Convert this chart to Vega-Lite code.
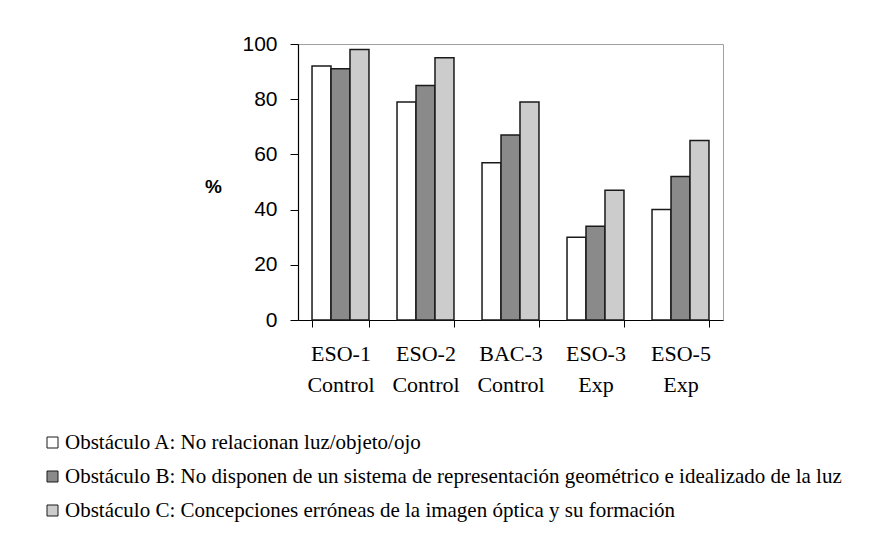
{
  "$schema": "https://vega.github.io/schema/vega-lite/v6.json",
  "autosize": {"type": "none"},
  "padding": {"left": 298, "top": 44, "right": 151, "bottom": 224},
  "width": 425,
  "height": 276,
  "background": "white",
  "data": {
    "values": [
      {"grupo": "ESO-1|Control", "obstaculo": "Obstáculo A: No relacionan luz/objeto/ojo", "pct": 92},
      {"grupo": "ESO-1|Control", "obstaculo": "Obstáculo B: No disponen de un sistema de representación geométrico e idealizado de la luz", "pct": 91},
      {"grupo": "ESO-1|Control", "obstaculo": "Obstáculo C: Concepciones erróneas de la imagen óptica y su formación", "pct": 98},
      {"grupo": "ESO-2|Control", "obstaculo": "Obstáculo A: No relacionan luz/objeto/ojo", "pct": 79},
      {"grupo": "ESO-2|Control", "obstaculo": "Obstáculo B: No disponen de un sistema de representación geométrico e idealizado de la luz", "pct": 85},
      {"grupo": "ESO-2|Control", "obstaculo": "Obstáculo C: Concepciones erróneas de la imagen óptica y su formación", "pct": 95},
      {"grupo": "BAC-3|Control", "obstaculo": "Obstáculo A: No relacionan luz/objeto/ojo", "pct": 57},
      {"grupo": "BAC-3|Control", "obstaculo": "Obstáculo B: No disponen de un sistema de representación geométrico e idealizado de la luz", "pct": 67},
      {"grupo": "BAC-3|Control", "obstaculo": "Obstáculo C: Concepciones erróneas de la imagen óptica y su formación", "pct": 79},
      {"grupo": "ESO-3|Exp", "obstaculo": "Obstáculo A: No relacionan luz/objeto/ojo", "pct": 30},
      {"grupo": "ESO-3|Exp", "obstaculo": "Obstáculo B: No disponen de un sistema de representación geométrico e idealizado de la luz", "pct": 34},
      {"grupo": "ESO-3|Exp", "obstaculo": "Obstáculo C: Concepciones erróneas de la imagen óptica y su formación", "pct": 47},
      {"grupo": "ESO-5|Exp", "obstaculo": "Obstáculo A: No relacionan luz/objeto/ojo", "pct": 40},
      {"grupo": "ESO-5|Exp", "obstaculo": "Obstáculo B: No disponen de un sistema de representación geométrico e idealizado de la luz", "pct": 52},
      {"grupo": "ESO-5|Exp", "obstaculo": "Obstáculo C: Concepciones erróneas de la imagen óptica y su formación", "pct": 65}
    ]
  },
  "mark": {"type": "bar", "stroke": "#1a1a1a", "strokeWidth": 1.5},
  "encoding": {
    "x": {
      "field": "grupo",
      "type": "nominal",
      "sort": null,
      "scale": {"paddingInner": 0.33, "paddingOuter": 0.165},
      "axis": {
        "title": null,
        "labelAngle": 0,
        "labelExpr": "split(datum.label, '|')",
        "labelFont": "Liberation Serif",
        "labelFontSize": 22,
        "labelLineHeight": 31,
        "labelPadding": 16,
        "labelColor": "black",
        "tickBand": "extent",
        "tickSize": 7,
        "tickColor": "black",
        "domainColor": "black",
        "domainWidth": 1.2
      }
    },
    "xOffset": {"field": "obstaculo", "type": "nominal", "sort": null},
    "y": {
      "field": "pct",
      "type": "quantitative",
      "scale": {"domain": [0, 100], "nice": false},
      "axis": {
        "title": "%",
        "titleAngle": 0,
        "titleFont": "Liberation Sans",
        "titleFontSize": 19,
        "titleFontWeight": "bold",
        "titleColor": "black",
        "titleX": -85,
        "titleY": 142,
        "titleAlign": "center",
        "titleBaseline": "middle",
        "values": [0, 20, 40, 60, 80, 100],
        "labelFont": "Liberation Sans",
        "labelFontSize": 21,
        "labelColor": "black",
        "labelPadding": 13,
        "tickSize": 8,
        "tickColor": "black",
        "domainColor": "black",
        "domainWidth": 1.2,
        "grid": false
      }
    },
    "fill": {
      "field": "obstaculo",
      "type": "nominal",
      "sort": null,
      "scale": {"range": ["#ffffff", "#8a8a8a", "#cccccc"]},
      "legend": {
        "title": null,
        "orient": "none",
        "legendX": -256,
        "legendY": 388,
        "symbolType": "square",
        "symbolSize": 121,
        "symbolStrokeColor": "#1a1a1a",
        "symbolStrokeWidth": 1,
        "labelFont": "Liberation Serif",
        "labelFontSize": 21,
        "labelColor": "black",
        "labelLimit": 0,
        "labelOffset": 2,
        "rowPadding": 12
      }
    }
  },
  "config": {
    "view": {"stroke": "#a0a0a0", "strokeWidth": 1}
  }
}
